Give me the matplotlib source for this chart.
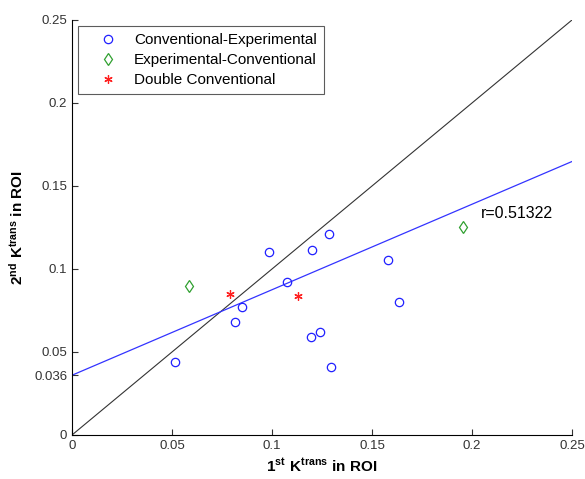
import matplotlib
matplotlib.use('Agg')
import matplotlib.pyplot as plt
import numpy as np

plt.rcParams['font.family'] = ['Liberation Sans', 'DejaVu Sans']
plt.rcParams['mathtext.fontset'] = 'custom'
plt.rcParams['mathtext.rm'] = 'Liberation Sans:bold'

# Conventional-Experimental
ce_x = [0.0515, 0.0813, 0.0852, 0.0983, 0.1077, 0.1202, 0.1283, 0.1193, 0.1240, 0.1297, 0.1578, 0.1635]
ce_y = [0.0442, 0.0679, 0.0773, 0.1104, 0.0923, 0.1113, 0.1213, 0.0592, 0.0622, 0.0411, 0.1056, 0.0799]
# Experimental-Conventional
ec_x = [0.0587, 0.1953]
ec_y = [0.0896, 0.1251]
# Double Conventional
dc_x = [0.0790, 0.1128]
dc_y = [0.0849, 0.0839]

# fit
intercept = 0.036
slope = 0.515
r_text = 'r=0.51322'

yticks = [0, 0.036, 0.05, 0.1, 0.15, 0.2, 0.25]
ytick_labels = ['0', '0.036', '0.05', '0.1', '0.15', '0.2', '0.25']
xticks = [0, 0.05, 0.1, 0.15, 0.2, 0.25]
xtick_labels = ['0', '0.05', '0.1', '0.15', '0.2', '0.25']

fig = plt.figure(figsize=(5.85, 4.79), dpi=100)
ax = fig.add_axes([0.1231, 0.0919, 0.8547, 0.8664])

xx = np.array([0, 0.25])
ax.plot(xx, xx, color='#333333', lw=0.8)
ax.plot(xx, intercept + slope * xx, color='#3333ff', lw=0.9)

ax.plot(ce_x, ce_y, 'o', mfc='none', mec='#2020ff', ms=6, mew=0.9, label='Conventional-Experimental')
ax.plot(ec_x, ec_y, 'd', mfc='none', mec='#30a030', ms=6, mew=0.9, label='Experimental-Conventional')
ax.plot(dc_x, dc_y, marker=(6, 2, 0), ls='none', color='#ff2020', ms=6, mew=0.9, label='Double Conventional')

ax.text(0.2045, 0.1335, r_text, fontsize=11.5, va='center', ha='left')

ax.set_xlim(0, 0.25)
ax.set_ylim(0, 0.25)
ax.set_xticks(xticks)
ax.set_xticklabels(xtick_labels)
ax.set_yticks(yticks)
ax.set_yticklabels(ytick_labels)
ax.tick_params(direction='in', length=4, labelsize=9.5, colors='#333333')
ax.spines['top'].set_visible(False)
ax.spines['right'].set_visible(False)

ax.set_xlabel(r'$\mathrm{1^{st}\ K^{trans}}$ in ROI', fontsize=11, fontweight='bold', labelpad=4)
ax.set_ylabel(r'$\mathrm{2^{nd}\ K^{trans}}$ in ROI', fontsize=11, fontweight='bold', labelpad=6)

leg = ax.legend(loc='upper left', fontsize=11, frameon=True, fancybox=False, numpoints=1,
                edgecolor='#333333', borderaxespad=0.4, borderpad=0.45, handlelength=3.0,
                handletextpad=0.2, labelspacing=0.4)
leg.get_frame().set_linewidth(0.8)

fig.savefig('out.png', dpi=100)
